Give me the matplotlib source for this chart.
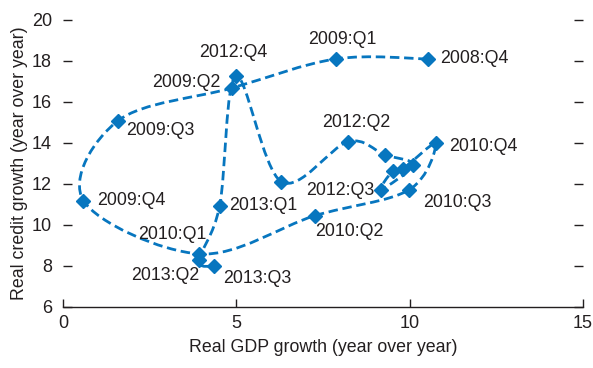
import numpy as np
import matplotlib
matplotlib.use("Agg")
import matplotlib.pyplot as plt
from matplotlib.path import Path
from matplotlib.patches import PathPatch

plt.rcParams['font.family'] = ['Liberation Sans Narrow', 'Liberation Sans', 'DejaVu Sans']

BLUE = '#0776BF'
TEXT = '#231F20'

# quarters in time order
quarters = ['2008:Q4', '2009:Q1', '2009:Q2', '2009:Q3', '2009:Q4',
            '2010:Q1', '2010:Q2', '2010:Q3', '2010:Q4',
            '2011:Q1', '2011:Q2', '2011:Q3', '2011:Q4',
            '2012:Q1', '2012:Q2', '2012:Q3', '2012:Q4',
            '2013:Q1', '2013:Q2', '2013:Q3']
gdp_growth = [10.52, 7.87, 4.87, 1.59, 0.59,
              3.93, 7.26, 9.98, 10.75,
              9.80, 9.51, 9.16, 10.09,
              9.28, 8.22, 6.30, 4.99,
              4.52, 3.93, 4.35]
credit_growth = [18.10, 18.10, 16.68, 15.09, 11.19,
                 8.59, 10.45, 11.71, 13.98,
                 12.73, 12.63, 11.71, 12.93,
                 13.42, 14.06, 12.11, 17.27,
                 10.93, 8.29, 8.00]

# label placement: (dx, dy) in points, ha, va
label_pos = {
    '2008:Q4': (9, 0, 'left', 'center'),
    '2009:Q1': (5, 14, 'center', 'center'),
    '2009:Q2': (-8, 4, 'right', 'center'),
    '2009:Q3': (6, -7, 'left', 'center'),
    '2009:Q4': (10, 0, 'left', 'center'),
    '2010:Q1': (5, 14, 'right', 'center'),
    '2010:Q2': (0, -11, 'left', 'center'),
    '2010:Q3': (10, -9, 'left', 'center'),
    '2010:Q4': (10, -2, 'left', 'center'),
    '2012:Q2': (6, 14, 'center', 'center'),
    '2012:Q3': (18, -6, 'left', 'center'),
    '2012:Q4': (-2, 17, 'center', 'center'),
    '2013:Q1': (7, 0, 'left', 'center'),
    '2013:Q2': (0, -11, 'right', 'center'),
    '2013:Q3': (7, -9, 'left', 'center'),
}

fig = plt.figure(figsize=(5.93, 3.68), dpi=100)
ax = fig.add_axes([0.1062, 0.1658, 0.8769, 0.7799])

# smoothed connecting line (Catmull-Rom as cubic Bezier)
pts = np.column_stack([gdp_growth, credit_growth])
ext = np.vstack([pts[0], pts, pts[-1]])
verts = [pts[0]]
codes = [Path.MOVETO]
for i in range(1, len(ext) - 2):
    p0, p1, p2, p3 = ext[i - 1], ext[i], ext[i + 1], ext[i + 2]
    verts += [p1 + (p2 - p0) / 6, p2 - (p3 - p1) / 6, p2]
    codes += [Path.CURVE4] * 3
ax.add_patch(PathPatch(Path(verts, codes), facecolor='none', edgecolor=BLUE,
                       lw=2.0, linestyle=(0, (3.4, 1.7))))

ax.plot(gdp_growth, credit_growth, linestyle='none', marker='D',
        markersize=6.8, color=BLUE, zorder=3)

for q, x, y in zip(quarters, gdp_growth, credit_growth):
    if q in label_pos:
        dx, dy, ha, va = label_pos[q]
        ax.annotate(q, (x, y), xytext=(dx, dy), textcoords='offset points',
                    ha=ha, va=va, fontsize=12.8, color=TEXT)

ax.set_xlim(0, 15)
ax.set_ylim(6, 20)
ax.set_xticks([0, 5, 10, 15])
ax.set_yticks(range(6, 21, 2))
for s in ['top', 'left', 'right']:
    ax.spines[s].set_visible(False)
ax.spines['bottom'].set_color(TEXT)
ax.spines['bottom'].set_linewidth(1.0)
ax.tick_params(axis='x', direction='in', length=6, width=1, colors=TEXT,
               labelsize=13, pad=6)
ax.tick_params(axis='y', direction='in', length=6.5, width=1, colors=TEXT,
               labelsize=13, right=True, pad=8)
ax.set_xlabel('Real GDP growth (year over year)', fontsize=12.8, color=TEXT, labelpad=5)
ax.set_ylabel('Real credit growth (year over year)', fontsize=12.8, color=TEXT, labelpad=3)

fig.savefig('out.png', dpi=100)
